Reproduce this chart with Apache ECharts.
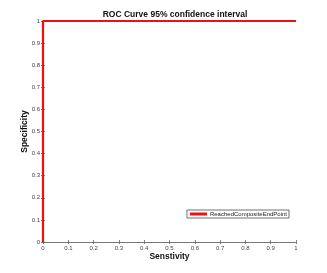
<!DOCTYPE html>
<html><head><meta charset="utf-8">
<script src="https://cdn.jsdelivr.net/npm/echarts@6/dist/echarts.min.js"></script>
<style>html,body{margin:0;padding:0;background:#fff}#c{width:327px;height:273px}</style>
</head><body><div id="c"></div>
<script>
var sensitivity = [0, 0, 1];
var specificity = [0, 1, 1];
var seriesName = 'ReachedCompositeEndPoint';
var tickValues = [0, 0.1, 0.2, 0.3, 0.4, 0.5, 0.6, 0.7, 0.8, 0.9, 1];

var chart = echarts.init(document.getElementById('c'), null, {renderer: 'canvas'});
var labelFmt = function (v) { return String(Math.round(v * 10) / 10); };
var tickStyle = {show: true, inside: true, length: 2, lineStyle: {color: '#555', width: 0.7}};
var axisLineStyle = {show: true, lineStyle: {color: '#777', width: 1}};
var lab = {fontSize: 6, color: '#444', fontFamily: 'Liberation Sans', margin: 3, formatter: labelFmt};
chart.setOption({
  animation: false,
  title: {text: 'ROC Curve 95% confidence interval', left: 170, top: 5, textAlign: 'center',
    textStyle: {fontSize: 8.5, fontWeight: 'bold', color: '#111', fontFamily: 'Liberation Sans'}},
  grid: {left: 43, right: 31, top: 21, bottom: 31, show: false},
  legend: {right: 38, top: 210, orient: 'horizontal', itemWidth: 17, itemHeight: 3, itemGap: 2,
    padding: [1, 2, 1, 3], borderColor: '#333', borderWidth: 0.7, backgroundColor: '#fff',
    icon: 'rect',
    textStyle: {fontSize: 6, color: '#222', fontFamily: 'Liberation Sans', padding: [0, 0, 0, -2]},
    data: [seriesName]},
  xAxis: [
    {type: 'value', min: 0, max: 1, interval: 0.1, position: 'bottom',
      name: 'Senstivity', nameLocation: 'middle', nameGap: 10, nameMoveOverlap: false,
      nameTextStyle: {fontSize: 8.5, fontWeight: 'bold', color: '#111', fontFamily: 'Liberation Sans'},
      axisLine: axisLineStyle, axisTick: tickStyle, axisLabel: lab, splitLine: {show: false}},
    {type: 'value', min: 0, max: 1, interval: 0.1, position: 'top',
      axisLine: axisLineStyle, axisTick: tickStyle, axisLabel: {show: false}, splitLine: {show: false}}
  ],
  yAxis: [
    {type: 'value', min: 0, max: 1, interval: 0.1, position: 'left',
      name: 'Specificity', nameLocation: 'middle', nameGap: 14, nameRotate: 90, nameMoveOverlap: false,
      nameTextStyle: {fontSize: 8.5, fontWeight: 'bold', color: '#111', fontFamily: 'Liberation Sans'},
      axisLine: axisLineStyle, axisTick: tickStyle, axisLabel: lab, splitLine: {show: false}},
    {type: 'value', min: 0, max: 1, interval: 0.1, position: 'right',
      axisLine: axisLineStyle, axisTick: tickStyle, axisLabel: {show: false}, splitLine: {show: false}}
  ],
  series: [{
    name: seriesName, type: 'line', showSymbol: false, symbol: 'none',
    data: sensitivity.map(function (x, i) { return [x, specificity[i]]; }),
    lineStyle: {color: '#ee1111', width: 2.2}, itemStyle: {color: '#ee1111'}, z: 5
  }]
});
</script></body></html>
